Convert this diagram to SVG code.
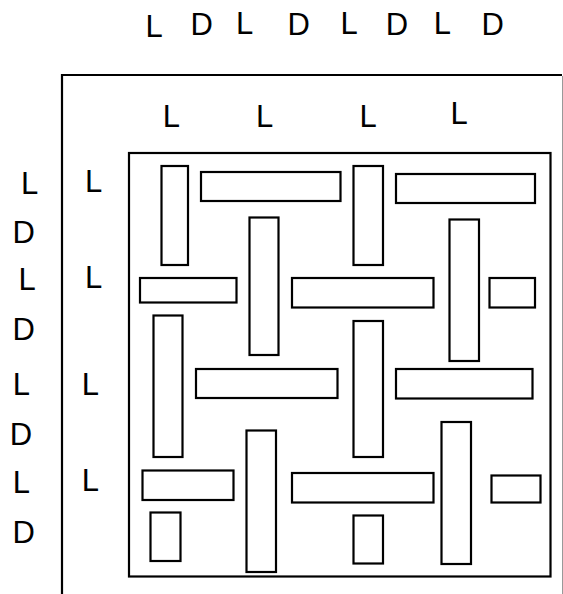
<svg xmlns="http://www.w3.org/2000/svg" width="563" height="594" viewBox="0 0 563 594">
<style>
.b{fill:#fff;stroke:#000;stroke-width:2.2}
.t{font-family:"Liberation Sans",Arial,sans-serif;font-size:31px;fill:#000}
.f{fill:none;stroke:#000;stroke-width:2.2}
</style>
<rect width="563" height="594" fill="#fff"/>
<g id="frame">
<path class="f" d="M62,594V75H562"/>
<line x1="562.5" y1="76" x2="562.5" y2="594" stroke="#999" stroke-width="1"/>
<rect class="b" x="129" y="153" width="421.5" height="423.5"/>
</g>
<g id="labels-top">
<text class="t" x="145.5" y="36.7" font-size="33">L</text>
<text class="t" x="190.5" y="35">D</text>
<text class="t" x="236" y="34.3">L</text>
<text class="t" x="287.5" y="35">D</text>
<text class="t" x="340.4" y="34.3">L</text>
<text class="t" x="385.8" y="35">D</text>
<text class="t" x="433.7" y="34.3">L</text>
<text class="t" x="481.5" y="35">D</text>
</g>
<g id="labels-row2">
<text class="t" x="162.7" y="127.3">L</text>
<text class="t" x="256" y="127.3">L</text>
<text class="t" x="359.4" y="127.3">L</text>
<text class="t" x="450.4" y="124">L</text>
</g>
<g id="labels-left">
<text class="t" x="21" y="194.3">L</text>
<text class="t" x="12.5" y="242.7">D</text>
<text class="t" x="18.4" y="290" font-size="33">L</text>
<text class="t" x="12.5" y="340">D</text>
<text class="t" x="12.7" y="395">L</text>
<text class="t" x="9.8" y="445">D</text>
<text class="t" x="12.7" y="492.7">L</text>
<text class="t" x="12.5" y="543.3">D</text>
</g>
<g id="labels-col2">
<text class="t" x="85" y="191.7">L</text>
<text class="t" x="85" y="287.7">L</text>
<text class="t" x="81.7" y="395">L</text>
<text class="t" x="81.7" y="490.7">L</text>
</g>
<g id="blocks">
<rect id="r1" class="b" x="161.5" y="166" width="26.5" height="99"/>
<rect id="r2" class="b" x="201" y="172" width="139.5" height="29"/>
<rect id="r3" class="b" x="353.5" y="166" width="29.5" height="99"/>
<rect id="r4" class="b" x="396" y="174" width="139" height="29"/>
<rect id="r5" class="b" x="249.5" y="217.5" width="29" height="137.5"/>
<rect id="r6" class="b" x="140" y="278" width="96.5" height="24.5"/>
<rect id="r7" class="b" x="292" y="278" width="141.5" height="29.5"/>
<rect id="r8" class="b" x="449.5" y="219.5" width="29.5" height="141.5"/>
<rect id="r9" class="b" x="489.5" y="278" width="45.5" height="29.5"/>
<rect id="r10" class="b" x="153.5" y="315.5" width="29" height="141.5"/>
<rect id="r11" class="b" x="196" y="369" width="141.5" height="29"/>
<rect id="r12" class="b" x="353.5" y="321" width="29.5" height="136"/>
<rect id="r13" class="b" x="396" y="369" width="136.5" height="29.5"/>
<rect id="r14" class="b" x="246.5" y="430.5" width="29.5" height="141.5"/>
<rect id="r15" class="b" x="142.5" y="470.5" width="91" height="29.5"/>
<rect id="r16" class="b" x="150.5" y="512.5" width="30" height="48.5"/>
<rect id="r17" class="b" x="292" y="473" width="141.5" height="29.5"/>
<rect id="r18" class="b" x="353.5" y="515.5" width="29.5" height="48"/>
<rect id="r19" class="b" x="441.5" y="422" width="29.5" height="142"/>
<rect id="r20" class="b" x="491.5" y="475.5" width="49" height="27"/>
</g>
</svg>
